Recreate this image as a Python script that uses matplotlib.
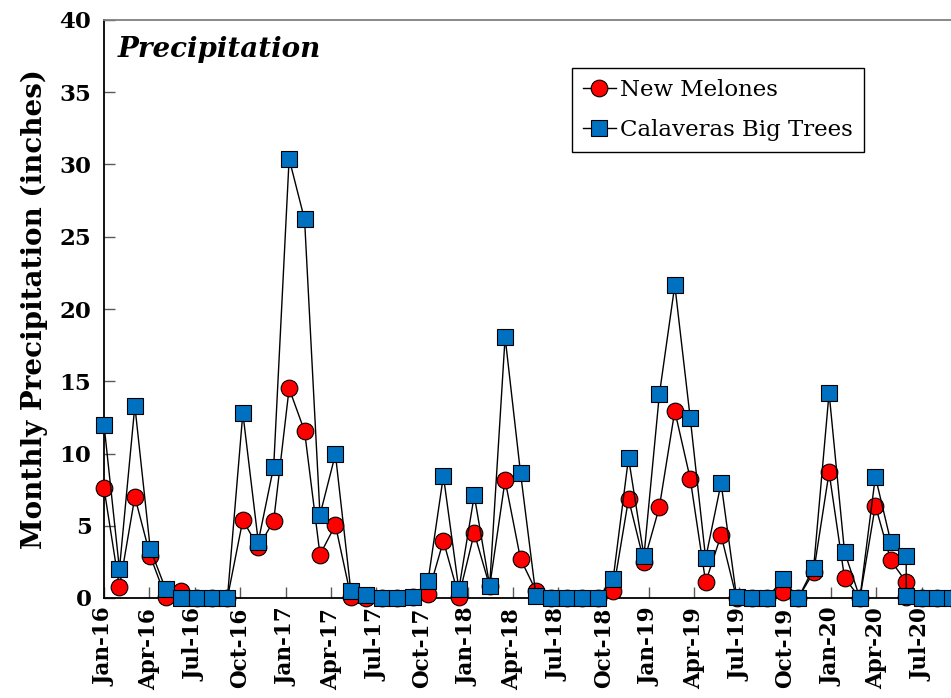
import numpy as np
import pandas as pd
import matplotlib
matplotlib.use('Agg')
import matplotlib.pyplot as plt
import matplotlib.dates as mdates

# samples were logged 31 days apart from Jan-16; slot 52 holds two readings
start = pd.Timestamp('2016-01-01')
step = list(range(53)) + [52, 53, 54, 55]

new_melones = [7.6, 0.75, 7.0, 2.9, 0.05, 0.5, 0.0, 0.0, 0.0,
               5.4, 3.5, 5.35, 14.5, 11.55, 3.0, 5.05, 0.1, 0.0,
               0.0, 0.0, 0.1, 0.25, 3.95, 0.1, 4.5, 0.8, 8.15,
               2.7, 0.5, 0.0, 0.0, 0.0, 0.0, 0.45, 6.85, 2.5,
               6.3, 12.95, 8.25, 1.1, 4.35, 0.0, 0.0, 0.0, 0.4,
               0.0, 1.8, 8.7, 1.4, 0.0, 6.4, 2.6, 1.1, 0.05,
               0.0, 0.0, 0.0]
big_trees = [12.0, 2.0, 13.3, 3.4, 0.6, 0.0, 0.0, 0.0, 0.0,
             12.8, 3.9, 9.1, 30.4, 26.2, 5.75, 9.95, 0.5, 0.2,
             0.0, 0.0, 0.05, 1.15, 8.45, 0.6, 7.1, 0.85, 18.05,
             8.65, 0.15, 0.0, 0.0, 0.0, 0.0, 1.3, 9.7, 2.9,
             14.1, 21.65, 12.45, 2.75, 7.95, 0.1, 0.0, 0.0, 1.3,
             0.0, 2.1, 14.2, 3.2, 0.0, 8.4, 3.9, 2.9, 0.15,
             0.0, 0.0, 0.0]

dates = start + pd.to_timedelta(np.array(step) * 31, unit='D')

serif = 'DejaVu Serif'

fig = plt.figure(figsize=(9.51, 6.98), dpi=100)
ax = fig.add_axes([104 / 951, 1 - 598 / 698, 1 - 104 / 951, (598 - 20) / 698])

ax.plot(dates, new_melones, color='black', lw=1.0, marker='o', ms=12,
        mfc='#FF0000', mec='black', mew=0.8, clip_on=False, zorder=3,
        label='New Melones')
ax.plot(dates, big_trees, color='black', lw=1.0, marker='s', ms=12,
        mfc='#0070C0', mec='black', mew=0.8, clip_on=False, zorder=4,
        label='Calaveras Big Trees')

ax.set_ylim(0, 40)
ax.set_yticks(np.arange(0, 41, 5))
ax.set_xlim(start, start + pd.Timedelta(days=1702))
ax.xaxis.set_major_locator(mdates.MonthLocator(bymonth=[1, 4, 7, 10]))
ax.xaxis.set_major_formatter(mdates.DateFormatter('%b-%y'))

ax.tick_params(axis='both', direction='in', length=8, width=1, color='#595959')
ax.tick_params(axis='y', pad=9)
ax.tick_params(axis='x', pad=7)
for lab in ax.get_xticklabels():
    lab.set_rotation(90)
    lab.set_fontfamily(serif)
    lab.set_fontweight('bold')
    lab.set_fontsize(15.5)
for lab in ax.get_yticklabels():
    lab.set_fontfamily(serif)
    lab.set_fontweight('bold')
    lab.set_fontsize(16.5)

ax.set_ylabel('Monthly Precipitation (inches)', fontfamily=serif,
              fontweight='bold', fontsize=20, labelpad=8)

ax.spines['right'].set_visible(False)
ax.spines['top'].set_color('#7F7F7F')
ax.spines['left'].set_color('black')
ax.spines['bottom'].set_color('black')
for s in ['top', 'left', 'bottom']:
    ax.spines[s].set_linewidth(1.3)

ax.text(0.0165, 0.936, 'Precipitation', transform=ax.transAxes,
        fontfamily=serif, fontweight='bold', fontstyle='italic', fontsize=20,
        va='baseline', ha='left')

leg = ax.legend(loc='upper left', bbox_to_anchor=(0.5525, 0.917),
                borderaxespad=0, fancybox=False, framealpha=1,
                edgecolor='black', handlelength=1.4, handletextpad=0.2,
                borderpad=0.5, labelspacing=0.75,
                prop={'family': serif, 'size': 16.5})
leg.get_frame().set_linewidth(1.0)

fig.savefig('out.png', dpi=100)
